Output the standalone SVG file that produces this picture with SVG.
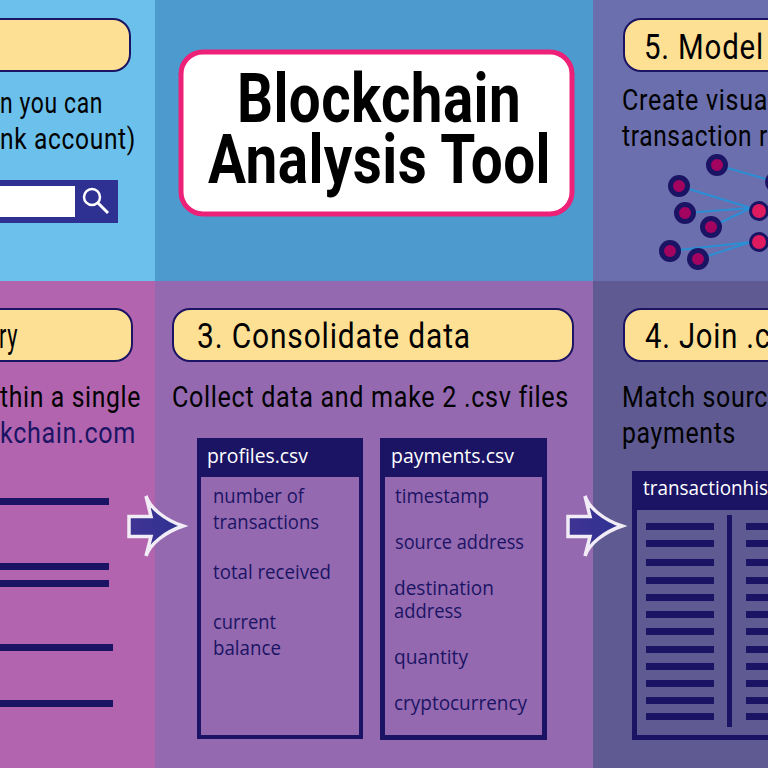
<svg xmlns="http://www.w3.org/2000/svg" width="768" height="768" viewBox="0 0 768 768">
<defs>
<linearGradient id="ag" x1="0" x2="1" y1="0" y2="0"><stop offset="0" stop-color="#3f3494"/><stop offset="1" stop-color="#2e3192"/></linearGradient>
<path id="arrow" d="M0 20.500H22L17 0C21 12 36 24 54 30C36 36 21 48 17 60L22 40.500H0Z" fill="url(#ag)" stroke="#f1ecf6" stroke-width="3.500"/>
</defs>
<style>
.pill{fill:#fee094;stroke:#1b1464;stroke-width:2}
.body{font-family:Roboto,"Liberation Sans",sans-serif;font-size:30px;letter-spacing:.8px;fill:#000}
.head{font-family:Roboto,"Liberation Sans",sans-serif;font-size:35px;letter-spacing:1px;fill:#000}
.title{font-family:Roboto,"Liberation Sans",sans-serif;font-size:68px;font-weight:700;letter-spacing:.5px;fill:#000}
.cell{font-family:"Open Sans","Liberation Sans",sans-serif;font-size:20px;fill:#1b1464}
.th{font-family:"Open Sans","Liberation Sans",sans-serif;font-size:20px;fill:#fff}
.navy{fill:#1b1464}
.edge{stroke:#2a8fd4;stroke-width:2;fill:none}
.src{fill:#a3045f;stroke:#1b1464;stroke-width:5}
.hub{fill:#de1b5f;stroke:#1b1464;stroke-width:3}
</style>
<rect id="bg1" x="0" y="0" width="155" height="281" fill="#6cc1ec"/>
<rect id="bg2" x="155" y="0" width="438" height="281" fill="#4d9ace"/>
<rect id="bg3" x="593" y="0" width="175" height="281" fill="#6b6fad"/>
<rect id="bg4" x="0" y="281" width="155" height="487" fill="#b265ae"/>
<rect id="bg5" x="155" y="281" width="438" height="487" fill="#9469b0"/>
<rect id="bg6" x="593" y="281" width="175" height="487" fill="#5f5b92"/>

<g id="title">
<rect x="181" y="52" width="391" height="162" rx="22" fill="#fff" stroke="#ee2178" stroke-width="5"/>
<text class="title" x="237" y="122" textLength="284" lengthAdjust="spacingAndGlyphs">Blockchain</text>
<text class="title" x="208" y="183" textLength="343" lengthAdjust="spacingAndGlyphs">Analysis Tool</text>
</g>

<g id="step1">
<rect class="pill" x="-30" y="19" width="160" height="52" rx="17"/>
<text class="body" x="0" y="113" textLength="103" lengthAdjust="spacingAndGlyphs">n you can</text>
<text class="body" x="0" y="149" textLength="136" lengthAdjust="spacingAndGlyphs">nk account)</text>
<rect x="-5" y="180" width="123" height="43" fill="#2e3192"/>
<rect x="-5" y="186" width="80" height="31" fill="#fff"/>
<circle cx="92" cy="197" r="8" fill="none" stroke="#fff" stroke-width="2.500"/>
<path d="M98 203L108 213" stroke="#fff" stroke-width="3" fill="none"/>
</g>

<g id="step2">
<rect class="pill" x="-30" y="309" width="162" height="52" rx="17"/>
<text class="head" x="-1" y="348" textLength="19" lengthAdjust="spacingAndGlyphs">ry</text>
<text class="body" x="0" y="407" textLength="141" lengthAdjust="spacingAndGlyphs">thin a single</text>
<text class="body" x="0" y="443" textLength="136" lengthAdjust="spacingAndGlyphs" style="fill:#1b1464">kchain.com</text>
<rect class="navy" x="0" y="498" width="109" height="7"/>
<rect class="navy" x="0" y="563" width="109" height="7"/>
<rect class="navy" x="0" y="580" width="109" height="7"/>
<rect class="navy" x="0" y="644" width="113" height="7"/>
<rect class="navy" x="0" y="700" width="113" height="7"/>
</g>

<g id="step3">
<rect class="pill" x="173" y="309" width="400" height="52" rx="17"/>
<text class="head" x="197" y="348" textLength="274" lengthAdjust="spacingAndGlyphs">3. Consolidate data</text>
<text class="body" x="172" y="407" textLength="397" lengthAdjust="spacingAndGlyphs">Collect data and make 2 .csv files</text>
</g>

<g id="profiles">
<path class="navy" fill-rule="evenodd" d="M197 438H363V739H197ZM201 477V735H359V477Z"/>
<text class="th" x="207" y="463" textLength="101" lengthAdjust="spacingAndGlyphs">profiles.csv</text>
<text class="cell" x="213" y="503" textLength="91" lengthAdjust="spacingAndGlyphs">number of</text>
<text class="cell" x="213" y="529" textLength="106" lengthAdjust="spacingAndGlyphs">transactions</text>
<text class="cell" x="213" y="579" textLength="118" lengthAdjust="spacingAndGlyphs">total received</text>
<text class="cell" x="213" y="629" textLength="63" lengthAdjust="spacingAndGlyphs">current</text>
<text class="cell" x="213" y="655" textLength="68" lengthAdjust="spacingAndGlyphs">balance</text>
</g>

<g id="payments">
<path class="navy" fill-rule="evenodd" d="M380 438H547V740H380ZM385 477V735H542V477Z"/>
<text class="th" x="391" y="463" textLength="123" lengthAdjust="spacingAndGlyphs">payments.csv</text>
<text class="cell" x="395" y="503" textLength="94" lengthAdjust="spacingAndGlyphs">timestamp</text>
<text class="cell" x="395" y="549" textLength="129" lengthAdjust="spacingAndGlyphs">source address</text>
<text class="cell" x="394" y="595" textLength="100" lengthAdjust="spacingAndGlyphs">destination</text>
<text class="cell" x="394" y="618" textLength="68" lengthAdjust="spacingAndGlyphs">address</text>
<text class="cell" x="394" y="664" textLength="74" lengthAdjust="spacingAndGlyphs">quantity</text>
<text class="cell" x="394" y="710" textLength="133" lengthAdjust="spacingAndGlyphs">cryptocurrency</text>
</g>

<g id="step4">
<rect class="pill" x="624" y="309" width="180" height="52" rx="17"/>
<text class="head" x="645" y="348" textLength="126" lengthAdjust="spacingAndGlyphs">4. Join .c</text>
<text class="body" x="622" y="407" textLength="146" lengthAdjust="spacingAndGlyphs">Match sourc</text>
<text class="body" x="622" y="443" textLength="114" lengthAdjust="spacingAndGlyphs">payments</text>
</g>

<g id="transactionhistory">
<path class="navy" fill-rule="evenodd" d="M632 471H780V740H632ZM637 510V735H780V510Z"/>
<text class="th" x="643" y="495" textLength="125" lengthAdjust="spacingAndGlyphs">transactionhis</text>
<rect class="navy" x="727" y="515" width="5" height="212"/>
<path class="navy" d="M646 523h68v7h-68zM646 540h68v7h-68zM646 559h68v7h-68zM646 577h68v7h-68zM646 594h68v7h-68zM646 611h68v7h-68zM646 628h68v7h-68zM646 646h68v7h-68zM646 663h68v7h-68zM646 680h68v7h-68zM646 697h68v7h-68zM646 713h68v7h-68z"/>
<path class="navy" d="M746 523h22v7h-22zM746 540h22v7h-22zM746 559h22v7h-22zM746 577h22v7h-22zM746 594h22v7h-22zM746 611h22v7h-22zM746 628h22v7h-22zM746 646h22v7h-22zM746 663h22v7h-22zM746 680h22v7h-22zM746 697h22v7h-22zM746 713h22v7h-22z"/>
</g>

<g id="step5">
<rect class="pill" x="624" y="19" width="180" height="52" rx="17"/>
<text class="head" x="644" y="59" textLength="120" lengthAdjust="spacingAndGlyphs">5. Model</text>
<text class="body" x="622" y="110" textLength="146" lengthAdjust="spacingAndGlyphs">Create visua</text>
<text class="body" x="622" y="146" textLength="146" lengthAdjust="spacingAndGlyphs">transaction r</text>
</g>

<g id="connectors">
<path class="edge" d="M717 165L776 182M679 186L751 208M685 213L751 208M711 227L751 208M670 251L751 242M698 259L751 242"/>
<use href="#arrow" x="129" y="496"/>
<use href="#arrow" x="568" y="496"/>
</g>

<g id="graph-nodes">
<circle class="src" cx="717" cy="165" r="8.500"/>
<circle class="src" cx="679" cy="186" r="8.500"/>
<circle class="src" cx="685" cy="213" r="8.500"/>
<circle class="src" cx="711" cy="227" r="8.500"/>
<circle class="src" cx="670" cy="251" r="8.500"/>
<circle class="src" cx="698" cy="259" r="8.500"/>
<circle class="src" cx="776" cy="182" r="8.500"/>
<circle class="hub" cx="759" cy="211" r="8.500"/>
<circle class="hub" cx="759" cy="242" r="8.500"/>
</g>
</svg>
